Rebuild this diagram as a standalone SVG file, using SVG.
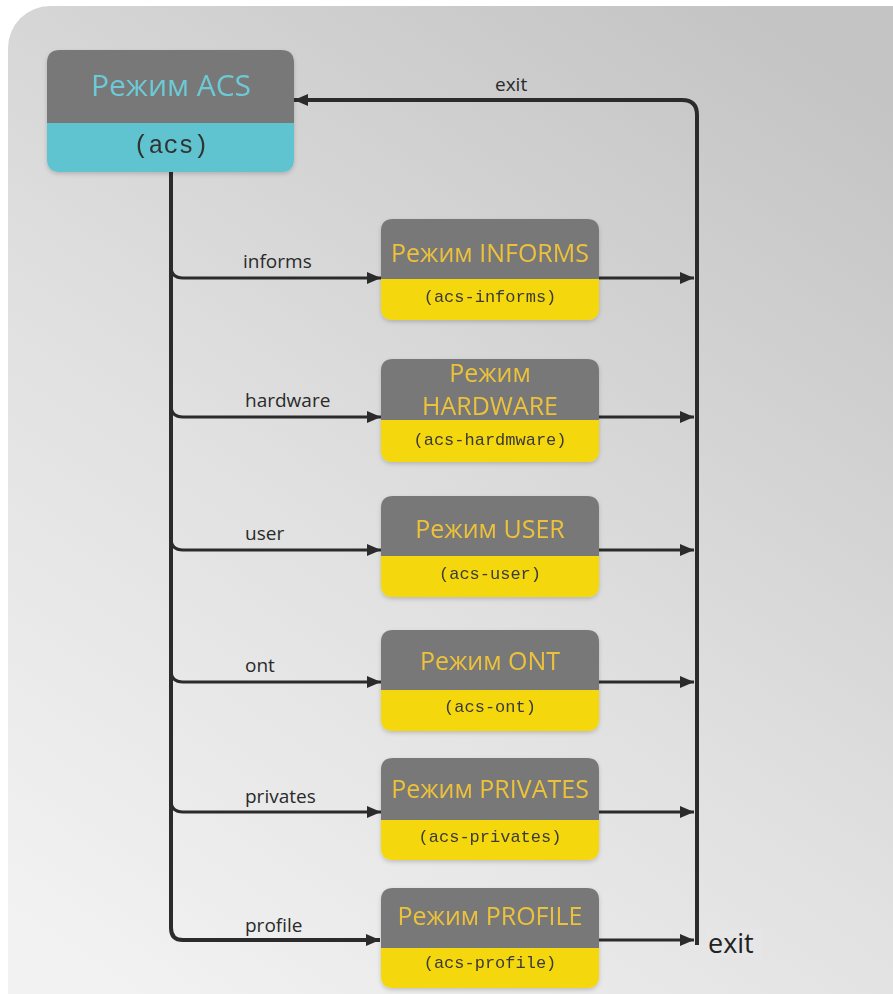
<svg xmlns="http://www.w3.org/2000/svg" width="893" height="994" viewBox="0 0 893 994">
<defs>
<linearGradient id="bg" x1="0.8" y1="0" x2="0.2" y2="1">
<stop offset="0" stop-color="#c4c4c4"/>
<stop offset="0.55" stop-color="#e0e0e0"/>
<stop offset="1" stop-color="#f2f2f2"/>
</linearGradient>
<marker id="arr" viewBox="0 0 14 12" refX="14" refY="6" markerWidth="14" markerHeight="12" markerUnits="userSpaceOnUse" orient="auto">
<path d="M0,0 L14,6 L0,12 Z" fill="#2b2b2b"/>
</marker>
<filter id="sh" x="-10%" y="-10%" width="120%" height="130%">
<feDropShadow dx="0" dy="2" stdDeviation="2" flood-color="#000" flood-opacity="0.18"/>
</filter>
</defs>
<style>
.gray{fill:#787878}
.yel{fill:#f4d80c}
.cyan{fill:#5ec4d0}
.title{font-family:"Open Sans","Liberation Sans",sans-serif;font-size:25px;fill:#edc23a;text-anchor:middle}
.sub{font-family:"Liberation Mono","Courier New",monospace;font-size:17px;fill:#3a3a3a;text-anchor:middle}
.lbl{font-family:"Open Sans","Liberation Sans",sans-serif;font-size:19px;fill:#2a2a2a}
.ln{fill:none;stroke:#2b2b2b;stroke-width:3}
.bus{fill:none;stroke:#2b2b2b;stroke-width:4}
</style>
<rect x="0" y="0" width="893" height="994" fill="#ffffff"/>
<rect x="8" y="6" width="925" height="1040" rx="42" fill="url(#bg)"/>

<g id="connectors">
<path class="bus" d="M171,172 V928 Q171,940 183,940 H380" marker-end="url(#arr)"/>
<path class="ln" d="M171,266 Q171,278 183,278 H381" marker-end="url(#arr)"/>
<path class="ln" d="M171,405 Q171,417 183,417 H381" marker-end="url(#arr)"/>
<path class="ln" d="M171,538 Q171,550 183,550 H381" marker-end="url(#arr)"/>
<path class="ln" d="M171,670 Q171,682 183,682 H381" marker-end="url(#arr)"/>
<path class="ln" d="M171,800 Q171,812 183,812 H381" marker-end="url(#arr)"/>
<path class="ln" d="M599,278 H694" marker-end="url(#arr)"/>
<path class="ln" d="M599,417 H694" marker-end="url(#arr)"/>
<path class="ln" d="M599,550 H694" marker-end="url(#arr)"/>
<path class="ln" d="M599,682 H694" marker-end="url(#arr)"/>
<path class="ln" d="M599,812 H694" marker-end="url(#arr)"/>
<path class="ln" d="M599,940 H694" marker-end="url(#arr)"/>
<path class="bus" d="M697,945 V115 Q697,100 682,100 H294" marker-end="url(#arr)"/>
<text class="lbl" x="495" y="91">exit</text>
<text class="lbl" x="243" y="268">informs</text>
<text class="lbl" x="245" y="407">hardware</text>
<text class="lbl" x="245" y="540">user</text>
<text class="lbl" x="245" y="672">ont</text>
<text class="lbl" x="245" y="803">privates</text>
<text class="lbl" x="245" y="932">profile</text>
<rect x="706" y="929" width="56" height="28" fill="#e6e6e6"/>
<text x="708" y="953" font-family="'Open Sans','Liberation Sans',sans-serif" font-size="27" fill="#222">exit</text>
</g>

<g id="node-acs" filter="url(#sh)">
<path class="gray" d="M47,123 V63 Q47,50 60,50 H281 Q294,50 294,63 V123 Z"/>
<path class="cyan" d="M47,123 H294 V159 Q294,172 281,172 H60 Q47,172 47,159 Z"/>
<text x="171" y="96" font-family="'Open Sans','Liberation Sans',sans-serif" font-size="30" fill="#6ccad6" text-anchor="middle">Режим ACS</text>
<text x="171" y="153" font-family="'Liberation Mono','Courier New',monospace" font-size="25" fill="#333" text-anchor="middle">(acs)</text>
</g>

<g id="node-informs" filter="url(#sh)" transform="translate(381,219)">
<path class="gray" d="M0,60 V12 Q0,0 12,0 H206 Q218,0 218,12 V60 Z"/>
<path class="yel" d="M0,60 H218 V89 Q218,101 206,101 H12 Q0,101 0,89 Z"/>
<text class="title" x="109" y="43">Режим INFORMS</text>
<text class="sub" x="109" y="83">(acs-informs)</text>
</g>

<g id="node-hardware" filter="url(#sh)" transform="translate(381,359)">
<path class="gray" d="M0,61 V12 Q0,0 12,0 H206 Q218,0 218,12 V61 Z"/>
<path class="yel" d="M0,61 H218 V91 Q218,103 206,103 H12 Q0,103 0,91 Z"/>
<text class="title" x="109" y="23">Режим</text>
<text class="title" x="109" y="56">HARDWARE</text>
<text class="sub" x="109" y="86">(acs-hardmware)</text>
</g>

<g id="node-user" filter="url(#sh)" transform="translate(381,496)">
<path class="gray" d="M0,60 V12 Q0,0 12,0 H206 Q218,0 218,12 V60 Z"/>
<path class="yel" d="M0,60 H218 V89 Q218,101 206,101 H12 Q0,101 0,89 Z"/>
<text class="title" x="109" y="42">Режим USER</text>
<text class="sub" x="109" y="83">(acs-user)</text>
</g>

<g id="node-ont" filter="url(#sh)" transform="translate(381,630)">
<path class="gray" d="M0,60 V12 Q0,0 12,0 H206 Q218,0 218,12 V60 Z"/>
<path class="yel" d="M0,60 H218 V89 Q218,101 206,101 H12 Q0,101 0,89 Z"/>
<text class="title" x="109" y="40">Режим ONT</text>
<text class="sub" x="109" y="82">(acs-ont)</text>
</g>

<g id="node-privates" filter="url(#sh)" transform="translate(381,758)">
<path class="gray" d="M0,62 V12 Q0,0 12,0 H206 Q218,0 218,12 V62 Z"/>
<path class="yel" d="M0,62 H218 V90 Q218,102 206,102 H12 Q0,102 0,90 Z"/>
<text class="title" x="109" y="40">Режим PRIVATES</text>
<text class="sub" x="109" y="84">(acs-privates)</text>
</g>

<g id="node-profile" filter="url(#sh)" transform="translate(381,888)">
<path class="gray" d="M0,60 V12 Q0,0 12,0 H206 Q218,0 218,12 V60 Z"/>
<path class="yel" d="M0,60 H218 V88 Q218,100 206,100 H12 Q0,100 0,88 Z"/>
<text class="title" x="109" y="37">Режим PROFILE</text>
<text class="sub" x="109" y="80">(acs-profile)</text>
</g>
</svg>
